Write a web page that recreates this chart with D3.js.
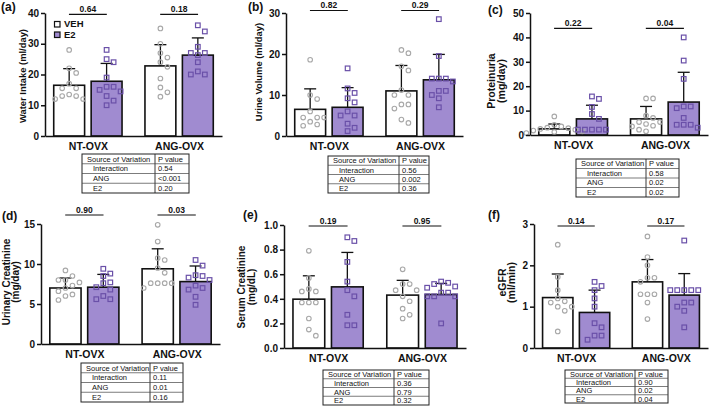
<!DOCTYPE html>
<html>
<head>
<meta charset="utf-8">
<script src="https://cdn.jsdelivr.net/npm/d3@7"></script>
<style>
  body { margin: 0; background: #fff; }
  text { font-family: "Liberation Sans", Arial, sans-serif; }
</style>
</head>
<body>
<svg id="fig" width="709" height="408"></svg>
<script>
// groups on the x axis, treatments inside each group
var groups = ["NT-OVX", "ANG-OVX"];
var treatments = ["VEH", "E2"];
var sources = ["Interaction", "ANG", "E2"];

// every series below is in the order NT-VEH, NT-E2, ANG-VEH, ANG-E2
// (a) water intake
var waterMean = [16.5, 17.8, 22.8, 26.3];
var waterSd = [5.4, 5.8, 6.9, 5.6];
var waterPts = [
  [28, 22, 20.5, 17, 15.5, 15.5, 13.5, 13, 13, 12, 12],
  [28, 25, 24, 19, 16, 16, 15, 14.5, 13, 11.5, 10],
  [35, 30, 27, 25.5, 24, 22.5, 18.7, 15.8, 14.2, 12.8],
  [36, 34, 29, 27, 27, 26.3, 24, 21, 20, 20]
];
var waterPair = ["0.64", "0.18"];
var waterAnova = ["0.54", "<0.001", "0.20"];

// (b) urine volume
var urineMean = [6.5, 7.0, 11.0, 13.7];
var urineSd = [5.0, 4.8, 6.2, 6.2];
var urinePts = [
  [18.6, 10, 9, 6, 4.5, 4.5, 4.5, 3.5, 2.8, 2.5],
  [16.5, 11.6, 10.5, 9.2, 8.2, 6, 5, 5, 3, 2, 1.2],
  [21, 20.2, 17, 16, 11.2, 10, 10, 7.7, 7.7, 6.7, 4, 3.2],
  [28.5, 19.5, 14, 14, 14, 13.3, 11, 11, 10, 9.2, 7]
];
var urinePair = ["0.82", "0.29"];
var urineAnova = ["0.56", "0.002", "0.36"];

// (c) proteinuria
var protMean = [2.5, 6.6, 6.6, 13.5];
var protSd = [2.0, 5.6, 5.1, 12.2];
var protPts = [
  [7.6, 4.2, 3.5, 3, 2.8, 2.5, 2.2, 1.8, 1.5, 1.2, 0.8],
  [15.8, 14.8, 11.5, 8.6, 6.6, 2.2, 2.2, 2.2, 2.2, 2.2],
  [15, 15, 7.9, 7, 5.3, 5.3, 4.5, 3.8, 3.5, 2.2, 1.5],
  [40, 30.5, 23, 11.7, 11.7, 11, 7, 4.2, 4.2, 4.2, 3]
];
var protPair = ["0.22", "0.04"];
var protAnova = ["0.58", "0.02", "0.02"];

// (d) urinary creatinine
var ucrMean = [7.0, 7.1, 9.4, 7.8];
var ucrSd = [1.25, 1.6, 2.5, 1.95];
var ucrPts = [
  [9.2, 8.5, 8, 8, 7.7, 7.3, 7, 6.6, 6.2, 6, 5.5],
  [9.4, 8.8, 8.5, 7.7, 7.6, 7.1, 6.8, 6, 5.6, 5.6],
  [14.9, 12.8, 10.75, 10.5, 9.5, 8.9, 7.6, 7.6, 7.6, 7.6, 7],
  [10.5, 9.8, 8.6, 8.5, 8.3, 8, 7.3, 7, 6.8, 5.9, 4.9]
];
var ucrPair = ["0.90", "0.03"];
var ucrAnova = ["0.11", "0.01", "0.16"];

// (e) serum creatinine
var scrMean = [0.397, 0.497, 0.43, 0.435];
var scrSd = [0.19, 0.28, 0.12, 0.09];
var scrPts = [
  [0.79, 0.57, 0.48, 0.46, 0.46, 0.37, 0.37, 0.37, 0.24, 0.15, 0.10],
  [0.90, 0.87, 0.70, 0.54, 0.47, 0.42, 0.27, 0.185, 0.185],
  [0.64, 0.52, 0.52, 0.47, 0.47, 0.42, 0.38, 0.32, 0.27, 0.24],
  [0.54, 0.53, 0.52, 0.50, 0.49, 0.45, 0.45, 0.42, 0.42, 0.42, 0.20]
];
var scrPair = ["0.19", "0.95"];
var scrAnova = ["0.36", "0.79", "0.32"];

// (f) eGFR
var gfrMean = [1.22, 0.86, 1.6, 1.28];
var gfrSd = [0.57, 0.54, 0.54, 0.52];
var gfrPts = [
  [2.5, 1.72, 1.4, 1.2, 1.13, 1.1, 1.0, 1.0, 0.9, 0.4],
  [1.6, 1.5, 1.4, 1.2, 1.0, 0.6, 0.5, 0.3, 0.3, 0.2],
  [2.7, 2.2, 2.0, 1.7, 1.7, 1.6, 1.3, 1.3, 1.3, 1.1, 0.7],
  [2.6, 1.4, 1.4, 1.4, 1.4, 1.4, 1.1, 1.1, 1.0, 0.9, 0.5]
];
var gfrPair = ["0.14", "0.17"];
var gfrAnova = ["0.90", "0.02", "0.04"];

var purple = "#a08bd0";
var purpleDark = "#6a50a8";
var grey = "#a8a8a8";

var svg = d3.select("#fig");

// simple beeswarm: points sorted by value, pushed sideways until they stop overlapping
function swarm(vals, cx, y, d) {
  var placed = [];
  var order = vals.map(function(v, i) { return i; })
    .sort(function(a, b) { return vals[b] - vals[a]; });
  order.forEach(function(i) {
    var py = y(vals[i]);
    for (var k = 0; k < 30; k++) {
      var off = k === 0 ? 0 : (k % 2 ? 1 : -1) * Math.ceil(k / 2) * d;
      var px = cx + off;
      var hit = placed.some(function(p) {
        return (p.x - px) * (p.x - px) + (p.y - py) * (p.y - py) < d * d * 0.95;
      });
      if (!hit) { placed.push({x: px, y: py}); break; }
    }
  });
  return placed;
}

function drawPanel(p) {
  var g = svg.append("g");
  var L = p.x1 - p.x0;

  var y = d3.scaleLinear().domain([0, p.max]).range([p.yb, p.yt]);
  var xg = d3.scalePoint().domain(groups).range([p.x0, p.x1]).padding(0.47);
  var xt = d3.scaleBand().domain(treatments).range([-0.193 * L, 0.193 * L]).paddingInner(0.175);
  var bw = xt.bandwidth();

  // bars
  var bars = d3.range(4).map(function(i) {
    return {g: groups[i >> 1], t: treatments[i % 2], mean: p.mean[i], sd: p.sd[i], pts: p.pts[i]};
  });
  g.selectAll(".bar").data(bars).enter().append("rect")
    .attr("x", function(d) { return xg(d.g) + xt(d.t); })
    .attr("y", function(d) { return y(d.mean); })
    .attr("width", bw)
    .attr("height", function(d) { return y(0) - y(d.mean); })
    .attr("fill", function(d) { return d.t === "E2" ? purple : "#fff"; })
    .attr("stroke", "#111")
    .attr("stroke-width", 1.6);

  // error bars (upper only)
  bars.forEach(function(d) {
    var cx = xg(d.g) + xt(d.t) + bw / 2;
    g.append("line").attr("x1", cx).attr("x2", cx)
      .attr("y1", y(d.mean)).attr("y2", y(d.mean + d.sd))
      .attr("stroke", "#111").attr("stroke-width", 1.3);
    g.append("line").attr("x1", cx - 6).attr("x2", cx + 6)
      .attr("y1", y(d.mean + d.sd)).attr("y2", y(d.mean + d.sd))
      .attr("stroke", "#111").attr("stroke-width", 1.3);
  });

  // individual points
  bars.forEach(function(d) {
    var cx = xg(d.g) + xt(d.t) + bw / 2;
    var pos = swarm(d.pts, cx, y, 7);
    if (d.t === "VEH") {
      g.selectAll(null).data(pos).enter().append("circle")
        .attr("cx", function(q) { return q.x; })
        .attr("cy", function(q) { return q.y; })
        .attr("r", 2.3)
        .attr("fill", "none").attr("stroke", grey).attr("stroke-width", 1.1);
    } else {
      g.selectAll(null).data(pos).enter().append("rect")
        .attr("x", function(q) { return q.x - 2.3; })
        .attr("y", function(q) { return q.y - 2.3; })
        .attr("width", 4.6).attr("height", 4.6)
        .attr("fill", "none").attr("stroke", purpleDark).attr("stroke-width", 1.2);
    }
  });

  // y axis
  var yAxis = g.append("g")
    .attr("transform", "translate(" + p.x0 + ",0)")
    .call(d3.axisLeft(y)
      .tickValues(d3.range(0, p.max + p.step / 2, p.step))
      .tickFormat(d3.format(p.fmt))
      .tickSize(4).tickSizeOuter(0).tickPadding(2));
  yAxis.selectAll("path, line").attr("stroke", "#111").attr("stroke-width", 1.5);
  yAxis.selectAll("text").attr("font-size", 10).attr("font-weight", "bold")
    .attr("fill", "#111").style("font-family", "'Liberation Sans', Arial, sans-serif");

  // x axis
  var xAxis = g.append("g")
    .attr("transform", "translate(0," + p.yb + ")")
    .call(d3.axisBottom(xg).tickSize(0).tickSizeOuter(0).tickPadding(7));
  xAxis.select(".domain").attr("stroke", "#111").attr("stroke-width", 1.5);
  xAxis.selectAll("text").attr("font-size", 10.5).attr("font-weight", "bold")
    .attr("fill", "#111").style("font-family", "'Liberation Sans', Arial, sans-serif");

  // y label
  p.ylab.forEach(function(t, i) {
    g.append("text")
      .attr("transform", "translate(" + p.ylabX[i] + "," + p.ylabY + ") rotate(-90)")
      .attr("text-anchor", "middle").attr("dy", "0.35em")
      .attr("font-size", p.ylabSize).attr("font-weight", "bold").attr("fill", "#111")
      .text(t);
  });

  // panel letter
  g.append("text").attr("x", p.labX).attr("y", p.labY)
    .attr("font-size", 12).attr("font-weight", "bold").attr("fill", "#111")
    .text(p.lab);

  // pairwise p values
  groups.forEach(function(gr, i) {
    var c = xg(gr);
    g.append("line").attr("x1", c - 0.107 * L).attr("x2", c + 0.107 * L)
      .attr("y1", p.sigY).attr("y2", p.sigY)
      .attr("stroke", "#111").attr("stroke-width", 1.2);
    g.append("text").attr("x", c).attr("y", p.sigY - 2.5)
      .attr("text-anchor", "middle").attr("font-size", 8.5).attr("font-weight", "bold")
      .attr("fill", "#111").text(p.pair[i]);
  });

  // two-way ANOVA table
  var t = p.table, rh = t.h / 4;
  var tg = g.append("g").attr("transform", "translate(" + t.x + "," + t.y + ")");
  tg.append("rect").attr("width", t.w).attr("height", t.h)
    .attr("fill", "none").attr("stroke", "#222").attr("stroke-width", 1);
  tg.append("line").attr("x1", t.div).attr("x2", t.div).attr("y1", 0).attr("y2", t.h)
    .attr("stroke", "#222").attr("stroke-width", 0.9);
  d3.range(1, 4).forEach(function(r) {
    tg.append("line").attr("x1", 0).attr("x2", t.w).attr("y1", r * rh).attr("y2", r * rh)
      .attr("stroke", "#444").attr("stroke-width", 0.7);
  });
  var rows = [["Source of Variation", "P value"]].concat(sources.map(function(s, i) {
    return [s, p.anova[i]];
  }));
  rows.forEach(function(r, i) {
    tg.append("text").attr("x", i === 0 ? 5 : 11).attr("y", i * rh + rh / 2)
      .attr("dy", "0.35em").attr("font-size", 7.5).attr("fill", "#111").text(r[0]);
    tg.append("text").attr("x", t.div + 3).attr("y", i * rh + rh / 2)
      .attr("dy", "0.35em").attr("font-size", 7.5).attr("fill", "#111").text(r[1]);
  });

  if (p.legend) {
    treatments.forEach(function(tr, i) {
      var ly = 21.5 + i * 10.5;
      g.append("rect").attr("x", 54.5).attr("y", ly).attr("width", 5.5).attr("height", 5.5)
        .attr("fill", tr === "E2" ? purple : "#fff").attr("stroke", "#111").attr("stroke-width", 1.2);
      g.append("text").attr("x", 64).attr("y", ly + 5.5)
        .attr("font-size", 9.5).attr("font-weight", "bold").attr("fill", "#111").text(tr);
    });
  }
}

drawPanel({x0: 45, x1: 222, yt: 13, yb: 136, max: 40, step: 10, fmt: "d",
  mean: waterMean, sd: waterSd, pts: waterPts, pair: waterPair, anova: waterAnova,
  sigY: 14.3, lab: "(a)", labX: 1, labY: 11,
  ylab: ["Water Intake (ml/day)"], ylabX: [22.5], ylabY: 76, ylabSize: 9.4,
  table: {x: 82, y: 154, w: 107, h: 39, div: 73}, legend: true});

drawPanel({x0: 286, x1: 463, yt: 13, yb: 136, max: 30, step: 10, fmt: "d",
  mean: urineMean, sd: urineSd, pts: urinePts, pair: urinePair, anova: urineAnova,
  sigY: 10.5, lab: "(b)", labX: 248, labY: 11,
  ylab: ["Urine Volume (ml/day)"], ylabX: [259], ylabY: 72, ylabSize: 9.4,
  table: {x: 328, y: 156, w: 101, h: 37, div: 71}});

drawPanel({x0: 530, x1: 708, yt: 13, yb: 135, max: 50, step: 10, fmt: "d",
  mean: protMean, sd: protSd, pts: protPts, pair: protPair, anova: protAnova,
  sigY: 28.3, lab: "(c)", labX: 488, labY: 14,
  ylab: ["Proteinuria", "(mg/day)"], ylabX: [491.5, 501.5], ylabY: 81, ylabSize: 10.5,
  table: {x: 576, y: 159, w: 103, h: 38, div: 70}});

drawPanel({x0: 41, x1: 220, yt: 224, yb: 344, max: 15, step: 5, fmt: "d",
  mean: ucrMean, sd: ucrSd, pts: ucrPts, pair: ucrPair, anova: ucrAnova,
  sigY: 215, lab: "(d)", labX: 2, labY: 220,
  ylab: ["Urinary Creatinine", "(mg/day)"], ylabX: [6, 15], ylabY: 282, ylabSize: 10,
  table: {x: 81, y: 363, w: 102, h: 39, div: 69}});

drawPanel({x0: 284, x1: 466, yt: 225, yb: 348, max: 1, step: 0.2, fmt: ".1f",
  mean: scrMean, sd: scrSd, pts: scrPts, pair: scrPair, anova: scrAnova,
  sigY: 226, lab: "(e)", labX: 243, labY: 219,
  ylab: ["Serum Creatinine", "(mg/dL)"], ylabX: [241.5, 251], ylabY: 287, ylabSize: 10,
  table: {x: 323, y: 370, w: 106, h: 35, div: 71}});

drawPanel({x0: 534, x1: 708, yt: 224, yb: 348, max: 3, step: 1, fmt: "d",
  mean: gfrMean, sd: gfrSd, pts: gfrPts, pair: gfrPair, anova: gfrAnova,
  sigY: 226, lab: "(f)", labX: 488, labY: 219,
  ylab: ["eGFR", "(ml/min)"], ylabX: [502, 511], ylabY: 282.5, ylabSize: 10.5,
  table: {x: 565, y: 370, w: 103, h: 33, div: 70}});
</script>
</body>
</html>
